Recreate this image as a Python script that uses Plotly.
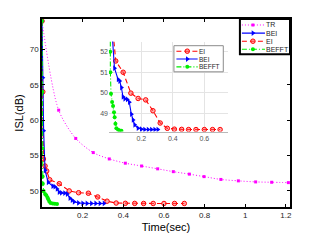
import plotly.graph_objects as go

# ---------------- data ----------------
TR_t = [0, 0.082, 0.166, 0.252, 0.331, 0.41, 0.49, 0.569, 0.646, 0.725, 0.797, 0.88, 0.966, 1.051, 1.13, 1.212]
TR_v = [74.0, 61.4, 57.4, 55.4, 54.5, 53.9, 53.5, 53.1, 52.7, 52.35, 52.0, 51.6, 51.4, 51.25, 51.2, 51.15]

EI_t = [0, 0.004, 0.007, 0.015, 0.023, 0.038, 0.085, 0.134, 0.18, 0.228, 0.274, 0.32, 0.365, 0.41, 0.456, 0.5, 0.547, 0.6, 0.652, 0.7]
EI_v = [74.0, 64.0, 54.5, 53.5, 52.8, 51.55, 51.0, 49.98, 49.72, 49.65, 49.12, 48.52, 48.26, 48.22, 48.21, 48.2, 48.2, 48.2, 48.2, 48.2]

BEI_t = [0, 0.004, 0.008, 0.015, 0.03, 0.053, 0.063, 0.074, 0.084, 0.095, 0.111, 0.124, 0.137, 0.148, 0.158, 0.179, 0.2, 0.221, 0.243, 0.264, 0.285, 0.305]
BEI_v = [74.0, 66.0, 58.5, 52.9, 51.2, 50.65, 50.57, 50.25, 49.8, 49.7, 49.67, 49.54, 48.95, 48.67, 48.43, 48.27, 48.22, 48.2, 48.2, 48.2, 48.2, 48.2]

BEFFT_t = [0, 0.001, 0.002, 0.003, 0.004, 0.008, 0.015, 0.021, 0.027, 0.031, 0.036, 0.042, 0.053, 0.063, 0.074]
BEFFT_v = [74.0, 64.0, 56.0, 52.0, 51.0, 49.95, 49.55, 49.35, 49.05, 48.8, 48.48, 48.26, 48.19, 48.16, 48.14]

X_TICKS = [0.2, 0.4, 0.6, 0.8, 1.0, 1.2]
X_TICKTEXT = ["0.2", "0.4", "0.6", "0.8", "1", "1.2"]
Y_TICKS = [50, 55, 60, 65, 70]
INSET_X_TICKS = [0.2, 0.4, 0.6]
INSET_Y_TICKS = [49, 50, 51, 52]

MAIN_LEGEND = ["TR", "BEI", "EI", "BEFFT"]
INSET_LEGEND = ["EI", "BEI", "BEFFT"]

# ---------------- styles ----------------
FONT = "Liberation Sans, Arial, sans-serif"
TXT = "#262626"
STY = {
    "TR": dict(line=dict(color="#ff00ff", width=1, dash="1px,2px", shape="spline", smoothing=0.8),
               marker=dict(symbol="square", size=3, color="#ff00ff")),
    "EI": dict(line=dict(color="#ff0000", width=1.1, dash="5px,3px"),
               marker=dict(symbol="circle", size=4.5, color="rgba(255,90,90,0.5)",
                           line=dict(color="#ff0000", width=1))),
    "BEI": dict(line=dict(color="#0000ff", width=1.1),
                marker=dict(symbol="triangle-right", size=5, color="#0000ff")),
    "BEFFT": dict(line=dict(color="#00ee00", width=1.1, dash="5px,2px,1px,2px"),
                  marker=dict(symbol="circle", size=4, color="#00ee00")),
}
DATA = {"TR": (TR_t, TR_v), "EI": (EI_t, EI_v), "BEI": (BEI_t, BEI_v), "BEFFT": (BEFFT_t, BEFFT_v)}

fig = go.Figure()

# main axes
for name in ["TR", "EI", "BEI", "BEFFT"]:
    t, v = DATA[name]
    fig.add_trace(go.Scatter(x=t, y=v, mode="lines+markers", name=name, showlegend=False,
                             xaxis="x", yaxis="y", **STY[name]))
# inset axes
for name in ["EI", "BEI", "BEFFT"]:
    t, v = DATA[name]
    fig.add_trace(go.Scatter(x=t, y=v, mode="lines+markers", name=name, showlegend=False,
                             xaxis="x2", yaxis="y2", **STY[name]))

# hand-made legends (plotly legends cannot be this compact)
def add_legend(names, xa, ya, x0, x1, xm, xt, ys, size):
    for name, yy in zip(names, ys):
        st = STY[name]
        ln = {k: v for k, v in st["line"].items() if k not in ("shape", "smoothing")}
        fig.add_trace(go.Scatter(x=[x0, x1], y=[yy, yy], mode="lines", line=ln, showlegend=False,
                                 hoverinfo="skip", xaxis=xa, yaxis=ya))
        fig.add_trace(go.Scatter(x=[xm], y=[yy], mode="markers", marker=st["marker"], showlegend=False,
                                 hoverinfo="skip", xaxis=xa, yaxis=ya))
        fig.add_annotation(x=xt, y=yy, xref=xa, yref=ya, text=name, showarrow=False,
                           xanchor="left", yanchor="middle", xshift=-2,
                           font=dict(size=size, color=TXT, family=FONT))

add_legend(MAIN_LEGEND, "x3", "y3", 0.04, 0.50, 0.26, 0.52, [0.83, 0.6, 0.37, 0.14], 7)
add_legend(INSET_LEGEND, "x4", "y4", 0.05, 0.48, 0.27, 0.50, [0.79, 0.49, 0.19], 6.5)

hidden = dict(visible=False, range=[0, 1], fixedrange=True)
# page body has an 8px margin, so the figure is sized/offset to compensate
fig.update_layout(
    width=313, height=233,
    margin=dict(l=34, r=31, t=9, b=32),
    paper_bgcolor="white", plot_bgcolor="white",
    font=dict(family=FONT, size=8, color=TXT),
    xaxis=dict(domain=[0, 1], range=[0, 1.22], tickvals=X_TICKS, ticktext=X_TICKTEXT,
               ticks="inside", ticklen=3, tickcolor="black", showline=True, linecolor="black",
               linewidth=1.5, mirror="allticks", showgrid=False, zeroline=False,
               tickfont=dict(size=8, color=TXT),
               title=dict(text="Time(sec)", font=dict(size=11, color="black"), standoff=4)),
    yaxis=dict(domain=[0, 1], range=[47.7, 74.3], tickvals=Y_TICKS,
               ticks="inside", ticklen=3, tickcolor="black", showline=True, linecolor="black",
               linewidth=1.5, mirror="allticks", showgrid=False, zeroline=False,
               tickfont=dict(size=8, color=TXT),
               title=dict(text="ISL(dB)", font=dict(size=11, color="black"), standoff=4)),
    xaxis2=dict(domain=[0.270, 0.75], anchor="y2", range=[-0.005, 0.75], tickvals=INSET_X_TICKS,
                showgrid=True, gridcolor="#e4e4e4", gridwidth=1, zeroline=False,
                showline=True, linecolor="#b8b8b8", linewidth=1, ticks="",
                tickfont=dict(size=7, color="#555555")),
    yaxis2=dict(domain=[0.401, 0.880], anchor="x2", range=[48.1, 52.5], tickvals=INSET_Y_TICKS,
                showgrid=True, gridcolor="#e4e4e4", gridwidth=1, zeroline=False,
                showline=False, ticks="", tickfont=dict(size=7, color="#555555")),
    xaxis3=dict(domain=[0.798, 1.0], anchor="y3", **hidden),
    yaxis3=dict(domain=[0.8125, 1.0], anchor="x3", **hidden),
    xaxis4=dict(domain=[0.532, 0.731], anchor="y4", **hidden),
    yaxis4=dict(domain=[0.719, 0.858], anchor="x4", **hidden),
    shapes=[
        dict(type="rect", xref="paper", yref="paper", x0=0.798, x1=1.0, y0=0.8125, y1=1.0,
             line=dict(color="black", width=2), layer="above"),
        dict(type="rect", xref="paper", yref="paper", x0=0.532, x1=0.731, y0=0.719, y1=0.858,
             line=dict(color="#8c8c8c", width=1), layer="above"),
    ],
)

fig.write_html("out.html")
